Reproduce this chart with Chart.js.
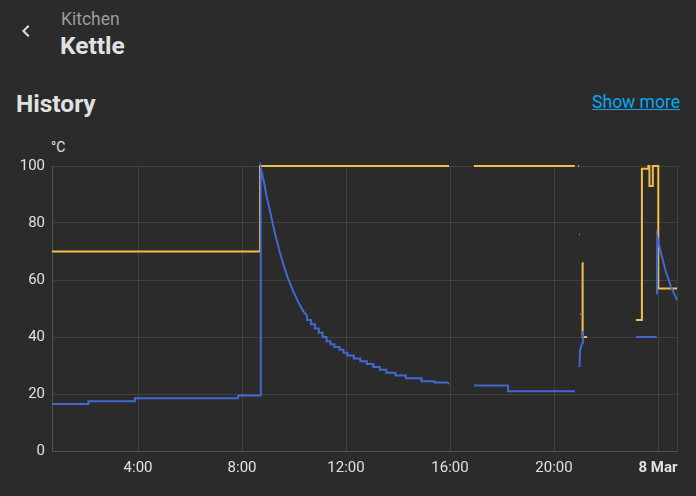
<!DOCTYPE html>
<html>
<head>
<meta charset="utf-8">
<script src="https://cdn.jsdelivr.net/npm/chart.js@4/dist/chart.umd.min.js"></script>
<style>
  html, body { margin: 0; padding: 0; background: #2b2b2b; }
  body { width: 696px; height: 496px; position: relative; overflow: hidden; font-family: Roboto, "Noto Sans", sans-serif; }
  .back { position: absolute; left: 14px; top: 19px; width: 24px; height: 24px; }
  .area { position: absolute; left: 61px; top: 9px; font-size: 17.5px; color: #9b9b9b; }
  .name { position: absolute; left: 60px; top: 31px; font-size: 24.5px; font-weight: 700; color: #e1e1e1; }
  .heading { position: absolute; left: 16px; top: 89px; font-size: 24.5px; font-weight: 700; color: #e1e1e1; }
  .more { position: absolute; right: 16px; top: 92px; font-size: 17.5px; color: #03a9f4; text-decoration: underline; }
  .unit { position: absolute; left: 51px; top: 139px; font-size: 14px; color: #e1e1e1; }
  .chart-box { position: absolute; left: 0; top: 150px; width: 696px; height: 330px; }
</style>
</head>
<body>
<svg class="back" viewBox="0 0 24 24"><path fill="#e1e1e1" d="M15.41,16.58L10.83,12L15.41,7.41L14,6L8,12L14,18L15.41,16.58Z"/></svg>
<div class="area">Kitchen</div>
<div class="name">Kettle</div>
<div class="heading">History</div>
<div class="more">Show more</div>
<div class="unit">°C</div>
<div class="chart-box"><canvas id="historyChart"></canvas></div>
<script>
// time in hours since 00:00 on 7 Mar, null = gap in history
const currentTimes = [
  0.69, 2.09, 2.09, 3.88, 3.88, 7.85, 7.85, 8.70, 8.72,
  8.85, 8.95, 9.08, 9.20, 9.33, 9.46, 9.59, 9.75, 9.97, 10.15, 10.36,
  10.50, 10.50, 10.65, 10.65, 10.80, 10.80, 10.95, 10.95, 11.10, 11.10,
  11.25, 11.25, 11.40, 11.40, 11.55, 11.55, 11.75, 11.75, 11.90, 11.90,
  12.05, 12.05, 12.30, 12.30, 12.55, 12.55, 12.80, 12.80, 13.05, 13.05,
  13.30, 13.30, 13.55, 13.55, 13.90, 13.90, 14.30, 14.30, 14.90, 14.90,
  15.40, 15.40, 15.90, 15.96, 15.97,
  16.92, 18.23, 18.23, 20.80, 20.81,
  20.98, 21.00, 21.05, 21.10, 21.11, 21.12,
  23.15, 23.95, 23.955,
  23.96, 23.97, 24.10, 24.30, 24.50, 24.73
];
const currentValues = [
  16.5, 16.5, 17.5, 17.5, 18.5, 18.5, 19.5, 19.5, 99.5,
  94, 89, 84, 79, 74, 69.5, 65.5, 61, 56, 52.5, 49,
  47.5, 46, 46, 44.5, 44.5, 43, 43, 41.5, 41.5, 40,
  40, 38.5, 38.5, 37.5, 37.5, 36.5, 36.5, 35.5, 35.5, 34.5,
  34.5, 33.5, 33.5, 32.5, 32.5, 31.5, 31.5, 30.5, 30.5, 29.5,
  29.5, 28.5, 28.5, 27.5, 27.5, 26.5, 26.5, 25.5, 25.5, 24.5,
  24.5, 24, 24, 23.5, null,
  23, 23, 21, 21, null,
  29.5, 35, 37, 38, 42, null,
  40, 40, null,
  55, 75, 70, 63, 57.5, 53
];

// target temperature, each point is a state change (stepped)
const targetTimes = [
  0.69, 8.69, 15.96, 15.97,
  16.92, 20.80, 20.81,
  20.92, 20.95, 20.951,
  20.97, 20.99, 20.991,
  21.00, 21.02, 21.021,
  21.09, 21.10, 21.27, 21.271,
  23.15, 23.38, 23.63, 23.67, 23.80, 24.01, 24.73
];
const targetValues = [
  70, 100, 100, null,
  100, 100, null,
  100, 100, null,
  76, 76, null,
  48, 48, null,
  66, 40, 40, null,
  46, 99, 100, 93, 100, 57, 57
];

const xMin = 0.69;
const xMax = 24.73;
const xTickValues = [4, 8, 12, 16, 20, 24];
const xTickLabels = ['4:00', '8:00', '12:00', '16:00', '20:00', '8 Mar'];
const yTickValues = [0, 20, 40, 60, 80, 100];

const toPoints = (times, values) => times.map((t, i) => ({ x: t, y: values[i] }));

const gridColor = 'rgba(255, 255, 255, 0.1)';
const textColor = '#e1e1e1';

new Chart(document.getElementById('historyChart'), {
    type: 'line',
    data: {
        datasets: [
            {
                label: 'Current temperature',
                data: toPoints(currentTimes, currentValues),
                borderColor: '#4269d0',
                backgroundColor: '#4269d0',
                borderWidth: 2,
                pointRadius: 0,
                spanGaps: false,
                tension: 0,
                clip: 4
            },
            {
                label: 'Target temperature',
                data: toPoints(targetTimes, targetValues),
                borderColor: '#f4bd4a',
                backgroundColor: '#f4bd4a',
                borderWidth: 2,
                pointRadius: 0,
                stepped: 'before',
                spanGaps: false,
                clip: 4
            }
        ]
    },
    options: {
        responsive: true,
        maintainAspectRatio: false,
        animation: false,
        layout: { padding: { top: 15, right: 19, left: 0, bottom: 0 } },
        plugins: {
            legend: { display: false },
            tooltip: { enabled: false }
        },
        scales: {
            x: {
                type: 'linear',
                min: xMin,
                max: xMax,
                afterBuildTicks: (scale) => {
                    scale.ticks = [xMin, ...xTickValues, xMax].map(v => ({ value: v }));
                },
                afterFit: (scale) => { scale.height = 29; },
                grid: { color: gridColor, drawTicks: false },
                border: { color: gridColor },
                ticks: {
                    color: textColor,
                    padding: 8,
                    maxRotation: 0,
                    autoSkip: false,
                    font: (ctx) => ({
                        family: 'Roboto',
                        size: 15,
                        weight: ctx.tick && ctx.tick.value === 24 ? 'bold' : 'normal'
                    }),
                    callback: (value) => {
                        const i = xTickValues.indexOf(value);
                        return i >= 0 ? xTickLabels[i] : '';
                    }
                }
            },
            y: {
                min: 0,
                max: 100,
                afterBuildTicks: (scale) => {
                    scale.ticks = yTickValues.map(v => ({ value: v }));
                },
                afterFit: (scale) => { scale.width = 52; },
                grid: { color: gridColor, drawTicks: false },
                border: { color: gridColor },
                ticks: {
                    color: textColor,
                    padding: 7,
                    font: { family: 'Roboto', size: 15 }
                }
            }
        }
    }
});
</script>
</body>
</html>
